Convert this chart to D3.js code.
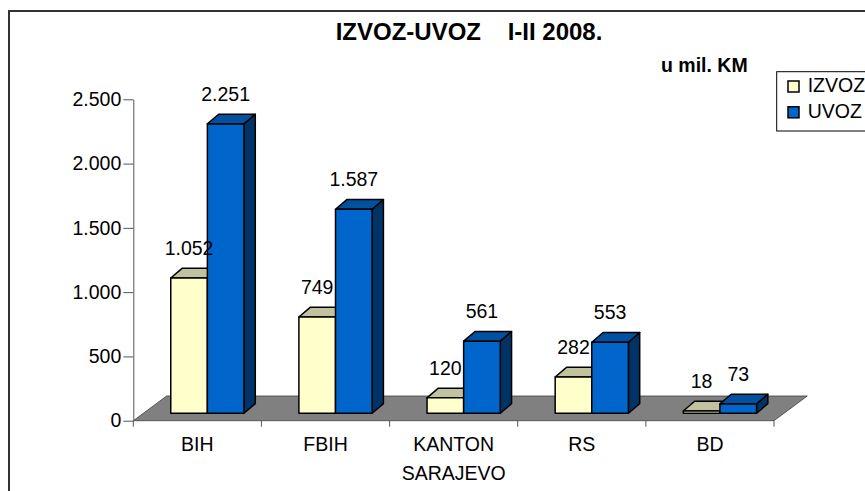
<!DOCTYPE html>
<html>
<head>
<meta charset="utf-8">
<script src="https://cdn.jsdelivr.net/npm/d3@7"></script>
<style>
    body { margin: 0; background: #fff; }
    text { font-family: "Liberation Sans", Arial, sans-serif; fill: #000; }
</style>
</head>
<body>
<svg id="canvas" width="865" height="491"></svg>
<script>
'use strict';

const categories = ['BIH', 'FBIH', 'KANTON SARAJEVO', 'RS', 'BD'];
const seriesNames = ['IZVOZ', 'UVOZ'];
const izvoz = [1052, 749, 120, 282, 18];
const uvoz = [2251, 1587, 561, 553, 73];
const yTicks = [0, 500, 1000, 1500, 2000, 2500];

document.addEventListener('DOMContentLoaded', function() {
    let svg = d3.select('#canvas');

    const plotLeft = 133.3, plotRight = 774;
    const plotBottom = 420.7, plotTop = 99.3;

    // floor depth, bar recess and bar depth (the 3d look)
    const floorDx = 33.3, floorDy = -24.7;
    const recessDx = 10, recessDy = -7.4;
    const depthDx = 11.3, depthDy = -9.7;

    const colors = {
        IZVOZ: { front: '#ffffcc', top: '#c2c29e', side: '#99997a' },
        UVOZ: { front: '#0066cc', top: '#00519f', side: '#003366' }
    };

    const fmt = d3.formatLocale({ decimal: ',', thousands: '.', grouping: [3], currency: ['', ''] }).format(',d');

    const values = { IZVOZ: izvoz, UVOZ: uvoz };

    let x = d3.scaleBand()
        .domain(categories)
        .range([plotLeft, plotRight])
        .padding(0);

    let xs = d3.scaleBand()
        .domain(seriesNames)
        .range([0, x.bandwidth()])
        .paddingInner(0)
        .paddingOuter(0.75);

    let y = d3.scaleLinear()
        .domain([0, 2500])
        .range([plotBottom, plotTop]);

    // outer frame
    svg.append('rect')
        .attr('x', 9)
        .attr('y', 11)
        .attr('width', 900)
        .attr('height', 520)
        .attr('fill', 'none')
        .attr('stroke', '#333')
        .attr('stroke-width', 2);

    // title
    svg.append('text')
        .attr('x', 469)
        .attr('y', 40)
        .attr('text-anchor', 'middle')
        .style('font-size', '24px')
        .style('font-weight', 'bold')
        .text('IZVOZ-UVOZ\u00a0\u00a0\u00a0\u00a0I-II 2008.');

    svg.append('text')
        .attr('x', 661)
        .attr('y', 71.7)
        .style('font-size', '19.5px')
        .style('font-weight', 'bold')
        .text('u mil. KM');

    // floor
    svg.append('polygon')
        .attr('points', [
            [plotLeft, plotBottom],
            [plotLeft + floorDx, plotBottom + floorDy],
            [plotRight + floorDx, plotBottom + floorDy],
            [plotRight, plotBottom]
        ].join(' '))
        .attr('fill', '#808080')
        .attr('stroke', '#404040')
        .attr('stroke-width', 0.8);

    // y axis
    const yAxis = svg.append('g')
        .attr('transform', 'translate(' + plotLeft + ',0)')
        .call(d3.axisLeft(y)
            .tickValues(yTicks)
            .tickSize(10)
            .tickSizeOuter(0)
            .tickPadding(2)
            .tickFormat(fmt));
    yAxis.select('.domain').attr('stroke', '#555');
    yAxis.selectAll('.tick line').attr('stroke', '#555');
    yAxis.selectAll('.tick text')
        .style('font-size', '19.5px')
        .style('font-family', '"Liberation Sans", Arial, sans-serif')
        .attr('fill', '#000');

    // x axis: category boundary ticks and labels
    const xAxis = svg.append('g').attr('class', 'x-axis');
    let bounds = categories.map(function(c) { return x(c); }).concat([plotRight]);
    xAxis.selectAll('line')
        .data(bounds)
        .enter().append('line')
            .attr('x1', function(d) { return d; })
            .attr('x2', function(d) { return d; })
            .attr('y1', plotBottom)
            .attr('y2', plotBottom + 6)
            .attr('stroke', '#555');

    xAxis.selectAll('text')
        .data(categories)
        .enter().append('text')
            .attr('x', function(d) { return x(d) + x.bandwidth() / 2; })
            .attr('y', plotBottom + 30.3)
            .attr('text-anchor', 'middle')
            .style('font-size', '19.5px')
            .each(function(d) {
                let parts = d.split(' ');
                let t = d3.select(this);
                parts.forEach(function(p, i) {
                    t.append('tspan')
                        .attr('x', x(d) + x.bandwidth() / 2)
                        .attr('dy', i === 0 ? 0 : 29)
                        .text(p);
                });
            });

    // bars
    let bars = [];
    categories.forEach(function(c, i) {
        seriesNames.forEach(function(s) {
            bars.push({ cat: c, series: s, value: values[s][i] });
        });
    });

    const barsGroup = svg.append('g').attr('class', 'bars');
    const w = xs.bandwidth();

    let bar = barsGroup.selectAll('g')
        .data(bars)
        .enter().append('g');

    function geom(d) {
        let fx = x(d.cat) + xs(d.series) + recessDx;
        let top = y(d.value) + recessDy;
        let bottom = y(0) + recessDy;
        return { fx: fx, top: top, bottom: bottom };
    }

    bar.append('polygon')
        .attr('points', function(d) {
            let g = geom(d);
            return [
                [g.fx + w, g.top],
                [g.fx + w + depthDx, g.top + depthDy],
                [g.fx + w + depthDx, g.bottom + depthDy],
                [g.fx + w, g.bottom]
            ].join(' ');
        })
        .attr('fill', function(d) { return colors[d.series].side; });

    bar.append('polygon')
        .attr('points', function(d) {
            let g = geom(d);
            return [
                [g.fx, g.top],
                [g.fx + depthDx, g.top + depthDy],
                [g.fx + w + depthDx, g.top + depthDy],
                [g.fx + w, g.top]
            ].join(' ');
        })
        .attr('fill', function(d) { return colors[d.series].top; });

    bar.append('rect')
        .attr('x', function(d) { return geom(d).fx; })
        .attr('y', function(d) { return geom(d).top; })
        .attr('width', w)
        .attr('height', function(d) { let g = geom(d); return g.bottom - g.top; })
        .attr('fill', function(d) { return colors[d.series].front; });

    bar.selectAll('polygon, rect')
        .attr('stroke', '#000')
        .attr('stroke-width', 1.5)
        .attr('stroke-linejoin', 'round');

    // value labels
    svg.append('g')
        .selectAll('text')
        .data(bars)
        .enter().append('text')
            .attr('x', function(d) { return geom(d).fx + w / 2; })
            .attr('y', function(d) { return geom(d).top - 23; })
            .attr('text-anchor', 'middle')
            .style('font-size', '19.5px')
            .text(function(d) { return fmt(d.value); });

    // legend
    const legend = svg.append('g');
    legend.append('rect')
        .attr('x', 776.7)
        .attr('y', 71.7)
        .attr('width', 120)
        .attr('height', 59.3)
        .attr('fill', '#fff')
        .attr('stroke', '#000')
        .attr('stroke-width', 1);

    let item = legend.selectAll('g')
        .data(seriesNames)
        .enter().append('g')
            .attr('transform', function(d, i) { return 'translate(788,' + (81 + i * 25.8) + ')'; });

    item.append('rect')
        .attr('width', 11)
        .attr('height', 11)
        .attr('fill', function(d) { return colors[d].front; })
        .attr('stroke', '#000')
        .attr('stroke-width', 1.5);

    item.append('text')
        .attr('x', 19.7)
        .attr('y', 10.7)
        .style('font-size', '19.5px')
        .text(function(d) { return d; });
}, false);
</script>
</body>
</html>
